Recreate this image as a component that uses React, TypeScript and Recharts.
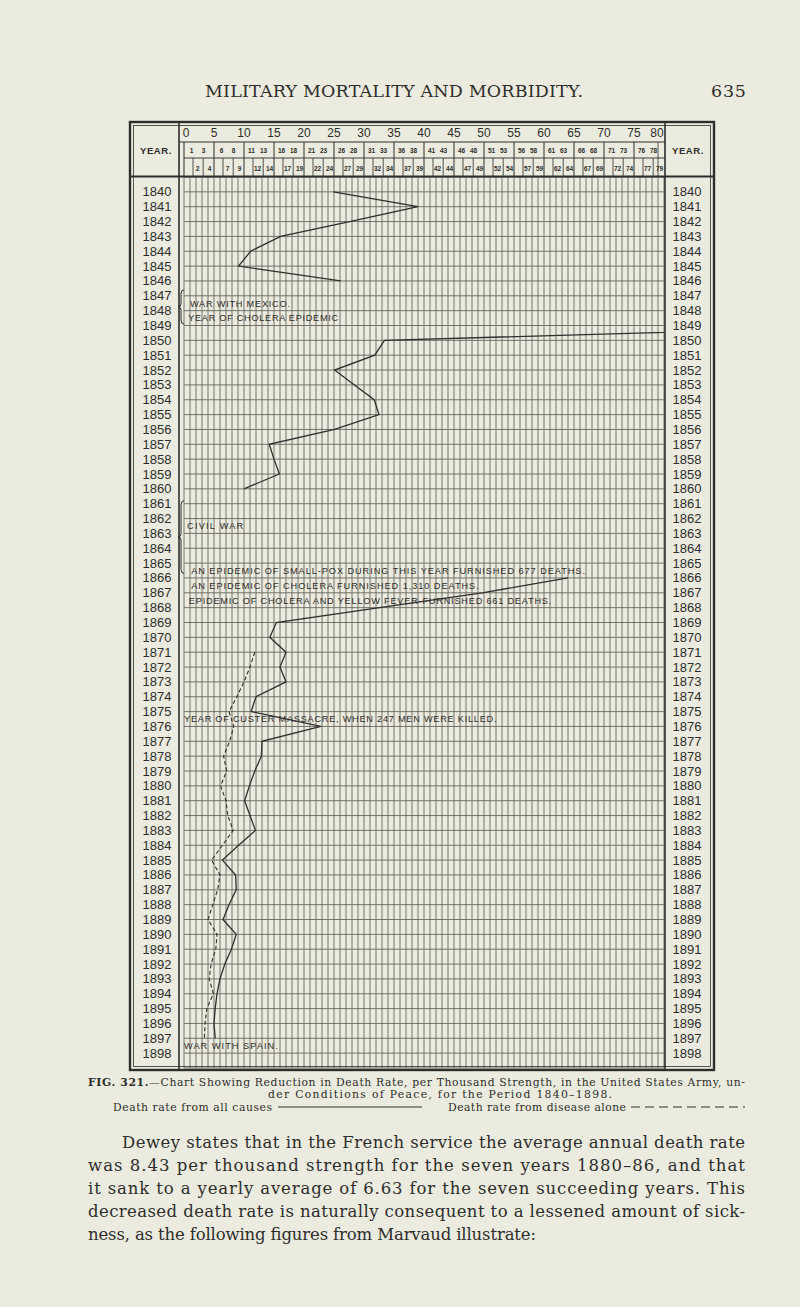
import React from 'react';
import { LineChart, Line, XAxis, YAxis, CartesianGrid, ReferenceDot, ReferenceLine } from 'recharts';

// years shown down the chart
const YEARS = [
  1840, 1841, 1842, 1843, 1844, 1845, 1846, 1847, 1848, 1849,
  1850, 1851, 1852, 1853, 1854, 1855, 1856, 1857, 1858, 1859,
  1860, 1861, 1862, 1863, 1864, 1865, 1866, 1867, 1868, 1869,
  1870, 1871, 1872, 1873, 1874, 1875, 1876, 1877, 1878, 1879,
  1880, 1881, 1882, 1883, 1884, 1885, 1886, 1887, 1888, 1889,
  1890, 1891, 1892, 1893, 1894, 1895, 1896, 1897, 1898,
];

// death rate per 1000, all causes (null = war years, not plotted; 1849 runs off the chart)
const ALL_CAUSES = [
  24.9, 39, 27.6, 16.1, 11.1, 9.1, 26.1, null, null, 120,
  33.4, 31.8, 25.1, 28.4, 31.7, 32.5, 25.1, 14.2, 15, 15.9,
  10, null, null, null, null, null, 64, 49.7, 32.6, 15.4,
  14.3, 17, 16, 17, 12, 11.2, 22.8, 13, 12.9, 11.8,
  10.9, 10.1, 11, 11.9, 9.1, 6.4, 8.6, 8.7, 7.5, 6.5,
  8.7, 7.9, 6.8, 6, 5.5, 5.2, 5, 5.2, null,
];

// death rate per 1000, disease alone
const DISEASE_ALONE = [
  null, null, null, null, null, null, null, null, null, null,
  null, null, null, null, null, null, null, null, null, null,
  null, null, null, null, null, null, null, null, null, null,
  null, 11.8, 11, 10, 8.8, 7.5, 8.3, 7.6, 6.6, 7.1,
  6.1, 7, 7.3, 8.2, 6.4, 4.6, 6, 5.6, 4.8, 4,
  5.5, 5.3, 4.5, 4.2, 4.9, 3.8, 3.5, 3.4, null,
];

const RATE_TICKS = Array.from({ length: 81 }, (_, i) => i);

const NOTES = [
  { text: 'WAR WITH MEXICO.', rate: 1, year: 1847.5 },
  { text: 'YEAR OF CHOLERA EPIDEMIC', rate: 0.7, year: 1848.5 },
  { text: 'CIVIL WAR', rate: 0.5, year: 1862.5 },
  { text: 'AN EPIDEMIC OF SMALL-POX DURING THIS YEAR FURNISHED 677 DEATHS.', rate: 1.2, year: 1865.5 },
  { text: 'AN EPIDEMIC OF CHOLERA FURNISHED 1,310 DEATHS.', rate: 1.2, year: 1866.5 },
  { text: 'EPIDEMIC OF CHOLERA AND YELLOW FEVER-FURNISHED 661 DEATHS.', rate: 0.8, year: 1867.5 },
  { text: 'YEAR OF CUSTER MASSACRE, WHEN 247 MEN WERE KILLED.', rate: 0, year: 1875.5 },
  { text: 'WAR WITH SPAIN.', rate: 0, year: 1897.5 },
];

const BRACES = [
  { from: 1846.6, to: 1848.9 },
  { from: 1860.8, to: 1865.7 },
];

const INK = '#2e2e2c';
const GRID = '#66665f';
const PAPER = '#ecebdf';
const SANS = '"Liberation Sans", Arial, sans-serif';
const SERIF = '"DejaVu Serif", "Liberation Serif", serif';

const rows = YEARS.map((year, i) => ({ year, all: ALL_CAUSES[i], disease: DISEASE_ALONE[i] }));

// split a series at its gaps so that war years stay unplotted
const runsOf = (vals: (number | null)[]) => {
  const runs: { year: number; rate: number }[][] = [];
  let cur: { year: number; rate: number }[] = [];
  vals.forEach((v, i) => {
    if (v == null) {
      if (cur.length) runs.push(cur);
      cur = [];
    } else {
      cur.push({ year: YEARS[i], rate: v });
    }
  });
  if (cur.length) runs.push(cur);
  return runs;
};

const allRuns = runsOf(ALL_CAUSES);
const diseaseRuns = runsOf(DISEASE_ALONE);

const HeaderTick = (props: any) => {
  const { x, y, payload } = props;
  const v: number = payload.value;
  const k = v % 5;
  const parts: React.ReactNode[] = [];
  if (k === 0) {
    const lx = v === 0 ? x + 2 : v === 80 ? x - 7 : x;
    parts.push(
      <text key="n" x={lx} y={y - 40} textAnchor="middle" fontSize={12} fontFamily={SANS} fill={INK}>{v}</text>
    );
    if (v < 80) parts.push(<line key="l" x1={x} x2={x} y1={y - 35} y2={y} stroke={INK} strokeWidth={1} />);
  } else {
    const row2 = k === 1 || k === 3;
    parts.push(
      <text key="n" x={x + 1.5} y={row2 ? y - 23.7 : y - 5.7} textAnchor="middle" fontSize={6.5}
        fontWeight="bold" fontFamily={SANS} fill={INK}>{v}</text>
    );
    if (k === 1) parts.push(<line key="l" x1={x + 3} x2={x + 3} y1={y - 19} y2={y} stroke={INK} strokeWidth={0.8} />);
    if (k === 3) parts.push(<line key="l" x1={x + 1.2} x2={x + 1.2} y1={y - 19} y2={y} stroke={INK} strokeWidth={0.8} />);
    if (v === 79) parts.push(<line key="e" x1={x} x2={x} y1={y - 35} y2={y} stroke={INK} strokeWidth={0.8} />);
  }
  return <g>{parts}</g>;
};

const YearTick = (props: any) => {
  const { x, y, payload, side } = props;
  const tx = side === 'left' ? x - 27 : x + 23;
  return (
    <text x={tx} y={y + 4.5} textAnchor="middle" fontSize={13} fontFamily={SANS} fill={INK}>
      {payload.value}
    </text>
  );
};

const noteLabel = (text: string) => (p: any) => {
  const vb = p.viewBox || { x: 0, y: 0 };
  return (
    <text x={vb.x} y={vb.y + 3.3} fontSize={9.2} fontFamily={SANS} fill={INK}
      textLength={text.length * 6.25} lengthAdjust="spacing">{text}</text>
  );
};

const braceShape = (p: any) => {
  const x = p.x1 - 3;
  const y1 = Math.min(p.y1, p.y2);
  const y2 = Math.max(p.y1, p.y2);
  const ym = (y1 + y2) / 2;
  const d = `M ${x + 3} ${y1} Q ${x} ${y1} ${x} ${y1 + 4} L ${x} ${ym - 3} Q ${x} ${ym} ${x - 3} ${ym} ` +
    `Q ${x} ${ym} ${x} ${ym + 3} L ${x} ${y2 - 4} Q ${x} ${y2} ${x + 3} ${y2}`;
  return <path d={d} fill="none" stroke={INK} strokeWidth={1} />;
};

const BodyLine = ({ x, y, w, children, size = 16.5 }: any) => (
  <text x={x} y={y} fontSize={size} fontFamily={SERIF} fill={INK} textLength={w} lengthAdjust="spacing">
    {children}
  </text>
);

export default function App() {
  return (
    <div style={{ position: 'relative', width: 800, height: 1307, background: PAPER, overflow: 'hidden' }}>
      <style>{`html, body { margin: 0; padding: 0; background: ${PAPER}; }`}</style>
      <div style={{ position: 'absolute', left: 130, top: 122 }}>
        <LineChart width={584} height={948} data={rows} layout="vertical"
          margin={{ top: 0, right: 0, bottom: 2, left: 0 }}>
          <CartesianGrid yAxisId="left" stroke={GRID} strokeWidth={0.9} />
          <XAxis type="number" orientation="top" domain={[0, 80]} ticks={RATE_TICKS} interval={0}
            height={55} allowDataOverflow tick={<HeaderTick />} tickLine={false} axisLine={false}
            tickSize={0} tickMargin={0} />
          <YAxis yAxisId="left" type="number" dataKey="year" domain={[1839, 1899]} ticks={YEARS}
            interval={0} width={54} tick={<YearTick side="left" />} tickLine={false} axisLine={false}
            tickSize={0} tickMargin={0} />
          <YAxis yAxisId="right" orientation="right" type="number" dataKey="year" domain={[1839, 1899]}
            ticks={YEARS} interval={0} width={50} tick={<YearTick side="right" />} tickLine={false}
            axisLine={false} tickSize={0} tickMargin={0} />
          {BRACES.map((b, i) => (
            <ReferenceLine key={'b' + i} yAxisId="left" ifOverflow="visible"
              segment={[{ x: 0, y: b.from }, { x: 0, y: b.to }]} shape={braceShape} />
          ))}
          {NOTES.map((n, i) => (
            <ReferenceDot key={'n' + i} yAxisId="left" x={n.rate} y={n.year} r={0} fill="none" stroke="none"
              label={noteLabel(n.text)} />
          ))}
          {allRuns.map((run, i) => (
            <Line key={'a' + i} yAxisId="left" data={run} dataKey="rate" type="linear" stroke={INK}
              strokeWidth={1.3} dot={false} isAnimationActive={false} />
          ))}
          {diseaseRuns.map((run, i) => (
            <Line key={'d' + i} yAxisId="left" data={run} dataKey="rate" type="linear" stroke={INK}
              strokeWidth={1.1} strokeDasharray="4 2.5" dot={false} isAnimationActive={false} />
          ))}
        </LineChart>
      </div>

      <svg width={800} height={1307} style={{ position: 'absolute', left: 0, top: 0, pointerEvents: 'none' }}>
        {/* table frame */}
        <rect x={130} y={122} width={584} height={948} fill="none" stroke={INK} strokeWidth={2.4} />
        <rect x={133.5} y={125.5} width={577} height={941} fill="none" stroke={INK} strokeWidth={0.8} />
        <line x1={179} x2={179} y1={122} y2={1070} stroke={INK} strokeWidth={1.6} />
        <line x1={665} x2={665} y1={122} y2={1070} stroke={INK} strokeWidth={1.6} />
        <line x1={179} x2={665} y1={142} y2={142} stroke={INK} strokeWidth={1} />
        <line x1={184} x2={665} y1={158} y2={158} stroke={INK} strokeWidth={0.9} />
        <line x1={130} x2={714} y1={176.5} y2={176.5} stroke={INK} strokeWidth={1.8} />
        <text x={156} y={154} textAnchor="middle" fontSize={9.5} fontWeight="bold" fontFamily={SANS} fill={INK}
          letterSpacing={0.6}>YEAR.</text>
        <text x={688} y={154} textAnchor="middle" fontSize={9.5} fontWeight="bold" fontFamily={SANS} fill={INK}
          letterSpacing={0.6}>YEAR.</text>

        {/* running head */}
        <BodyLine x={205} y={97} w={378} size={17.5}>MILITARY MORTALITY AND MORBIDITY.</BodyLine>
        <BodyLine x={711} y={97} w={35} size={17.5}>635</BodyLine>

        {/* caption and legend */}
        <text x={88} y={1085.5} fontSize={10.8} fontFamily={SERIF} fill={INK} textLength={657} lengthAdjust="spacing">
          <tspan fontWeight="bold">FIG. 321.</tspan>—Chart Showing Reduction in Death Rate, per Thousand Strength, in the United States Army, un-
        </text>
        <BodyLine x={268} y={1098} w={344} size={10.8}>der Conditions of Peace, for the Period 1840–1898.</BodyLine>
        <BodyLine x={113} y={1110.5} w={159} size={10.8}>Death rate from all causes</BodyLine>
        <line x1={278} x2={422} y1={1107} y2={1107} stroke={INK} strokeWidth={1} />
        <BodyLine x={448} y={1110.5} w={178} size={10.8}>Death rate from disease alone</BodyLine>
        <line x1={631} x2={745} y1={1107} y2={1107} stroke={INK} strokeWidth={1} strokeDasharray="9 5" />

        {/* body text */}
        <BodyLine x={122} y={1148} w={623}>Dewey states that in the French service the average annual death rate</BodyLine>
        <BodyLine x={88} y={1171} w={657}>was 8.43 per thousand strength for the seven years 1880–86, and that</BodyLine>
        <BodyLine x={88} y={1194} w={657}>it sank to a yearly average of 6.63 for the seven succeeding years. This</BodyLine>
        <BodyLine x={88} y={1217} w={657}>decreased death rate is naturally consequent to a lessened amount of sick-</BodyLine>
        <BodyLine x={88} y={1240} w={448}>ness, as the following figures from Marvaud illustrate:</BodyLine>
      </svg>
    </div>
  );
}
